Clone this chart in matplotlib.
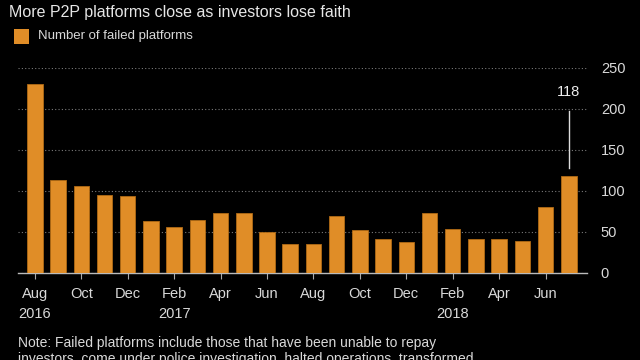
import numpy as np
import matplotlib.pyplot as plt

months = ['Aug', 'Sep', 'Oct', 'Nov', 'Dec', 'Jan', 'Feb', 'Mar', 'Apr', 'May', 'Jun', 'Jul',
          'Aug', 'Sep', 'Oct', 'Nov', 'Dec', 'Jan', 'Feb', 'Mar', 'Apr', 'May', 'Jun', 'Jul']
failed = [230, 113, 106, 95, 94, 63, 56, 65, 73, 73, 50, 35,
          35, 70, 53, 42, 38, 73, 54, 42, 42, 39, 80, 118]
tick_labels = ['Aug\n2016', 'Oct', 'Dec', 'Feb\n2017', 'Apr', 'Jun',
               'Aug', 'Oct', 'Dec', 'Feb\n2018', 'Apr', 'Jun']
yticks = [0, 50, 100, 150, 200, 250]

bg = 'black'
txt = '#d9d9d9'
orange = '#e08d27'

plt.rcParams['font.family'] = ['Liberation Sans', 'DejaVu Sans']

fig = plt.figure(figsize=(6.4, 3.6), dpi=100, facecolor=bg)
ax = fig.add_axes([0.028, 0.2417, 0.889, 0.5695], facecolor=bg)

x = np.arange(len(failed))
ax.bar(x, failed, width=0.67, color=orange, edgecolor='#b06a15', linewidth=0.6, zorder=3)

ax.set_xlim(-0.73, len(failed) - 1 + 0.78)
ax.set_ylim(0, 250)
ax.yaxis.tick_right()
ax.set_yticks(yticks)
ax.set_yticklabels([str(v) for v in yticks], color=txt, fontsize=10.5)
ax.tick_params(axis='y', length=0, pad=10)
ax.grid(axis='y', color='#7a7a7a', linestyle=(0, (1, 2)), linewidth=0.8, zorder=0)

ax.set_xticks(x[::2])
ax.set_xticklabels(tick_labels, color=txt, fontsize=10.5, linespacing=1.55)
ax.tick_params(axis='x', color='#aaaaaa', length=4, width=0.8, direction='out', pad=6)
for lab in ax.get_xticklabels():
    lab.set_horizontalalignment('center')

for s in ['top', 'left', 'right']:
    ax.spines[s].set_visible(False)
ax.spines['bottom'].set_color('#bbbbbb')
ax.spines['bottom'].set_linewidth(1)

# annotation for latest value
last = len(failed) - 1
ax.plot([last, last], [128, 198], color='#dddddd', linewidth=1, zorder=4)
ax.text(last, 212, str(failed[last]), color='#eeeeee', fontsize=10.5, ha='center', va='bottom')

fig.text(0.014, 0.965, 'More P2P platforms close as investors lose faith', color='#e6e6e6',
         fontsize=11.5, ha='left', va='center')
fig.patches.append(plt.Rectangle((0.022, 0.878), 0.023, 0.042, transform=fig.transFigure,
                                 facecolor=orange, edgecolor='none'))
fig.text(0.06, 0.899, 'Number of failed platforms', color=txt, fontsize=9.5, ha='left', va='center')

fig.text(0.028, 0.068, 'Note: Failed platforms include those that have been unable to repay\n'
         'investors, come under police investigation, halted operations, transformed',
         color=txt, fontsize=10, ha='left', va='top', linespacing=1.25)

fig.savefig('out.png', dpi=100, facecolor=bg)
